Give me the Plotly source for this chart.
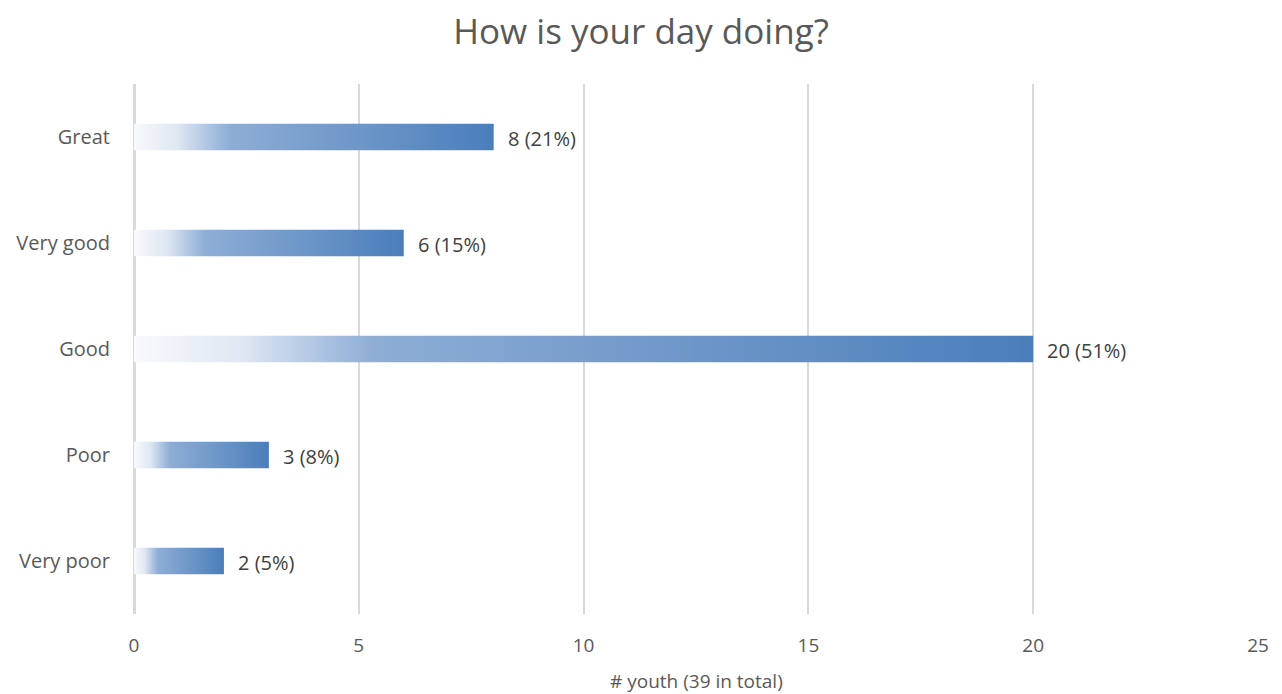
import plotly.graph_objects as go

categories = ["Great", "Very good", "Good", "Poor", "Very poor"]
counts = [8, 6, 20, 3, 2]
percents = [21, 15, 51, 8, 5]
x_ticks = [0, 5, 10, 15, 20, 25]
title_text = "How is your day doing?"
x_title = "# youth (39 in total)"

FONT = "Open Sans"
BAR_HALF = 0.125
grad = [[0.0, "#f8fafd"], [0.12, "#dfe7f3"], [0.24, "#9bb7dc"], [0.27, "#8eadd5"], [1.0, "#4a7ebb"]]

fig = go.Figure()
for i, (cat, v) in enumerate(zip(categories, counts)):
    fig.add_trace(go.Scatter(
        x=[0, v, v, 0, 0],
        y=[i - BAR_HALF, i - BAR_HALF, i + BAR_HALF, i + BAR_HALF, i - BAR_HALF],
        mode="lines", line=dict(width=0), fill="toself",
        fillgradient=dict(type="horizontal", colorscale=grad),
        hoverinfo="skip", showlegend=False,
    ))
    fig.add_annotation(x=v, y=i, text=f"{v} ({percents[i]}%)", showarrow=False,
                       xanchor="left", xshift=12, yshift=-1,
                       font=dict(family=FONT, size=20, color="#404040"))

# x-axis title as a paper-positioned annotation
fig.add_annotation(x=0.5, y=-0.1264, xref="paper", yref="paper", text=x_title, showarrow=False,
                   xanchor="center", yanchor="middle",
                   font=dict(family=FONT, size=19, color="#595959"))

# the page adds an 8px body margin, so the figure is sized to fit inside the window
fig.update_layout(
    width=1266, height=686,
    paper_bgcolor="white", plot_bgcolor="white",
    margin=dict(l=126, r=16, t=76, b=80, autoexpand=False),
    title=dict(text=title_text, x=0.5, xanchor="center", y=1 - 24 / 686, yanchor="middle",
               font=dict(family=FONT, size=35, color="#595959")),
    showlegend=False,
)
fig.update_xaxes(range=[0, 25], tickvals=x_ticks, showgrid=True, gridcolor="#d9d9d9", gridwidth=2,
                 zeroline=True, zerolinecolor="#d9d9d9", zerolinewidth=3, showline=False,
                 ticks="", ticklabelstandoff=18, automargin=False,
                 tickfont=dict(family=FONT, size=19, color="#595959"))
fig.update_yaxes(range=[4.5, -0.5], tickvals=list(range(len(categories))), ticktext=categories,
                 showgrid=False, zeroline=False, showline=False, ticks="", ticklabelstandoff=23,
                 automargin=False,
                 tickfont=dict(family=FONT, size=20, color="#595959"))

fig.write_html("out.html")
